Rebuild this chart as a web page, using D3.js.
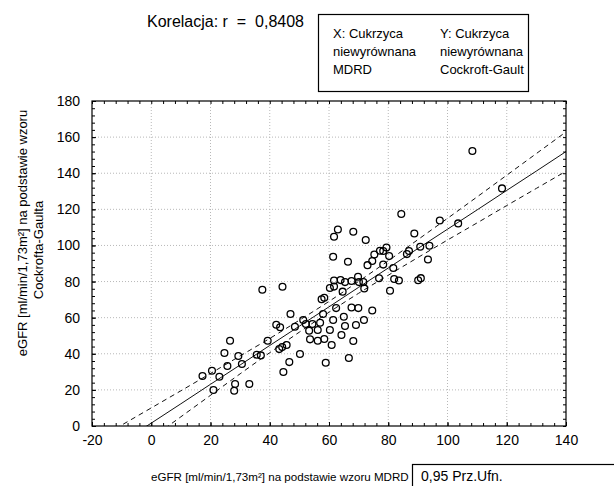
<!DOCTYPE html>
<html>
<head>
<meta charset="utf-8">
<script src="https://cdn.jsdelivr.net/npm/d3@7"></script>
<style>
  body { margin: 0; background: #fff; }
  svg text { font-family: "Liberation Sans", Arial, sans-serif; fill: #000; }
</style>
</head>
<body>
<svg id="chart" width="614" height="486"></svg>
<script>
// points (x = MDRD, y = Cockcroft-Gault)
var mdrd = [17.3, 20.5, 21.0, 23.0, 24.7, 25.7, 26.6, 28.3, 28.0, 29.4, 30.6, 33.1, 35.6, 37.0, 37.5,
  39.3, 42.2, 43.5, 44.3, 43.2, 44.2, 45.7, 44.6, 46.6, 47.0, 48.5, 50.2, 51.3, 52.2, 53.3,
  53.6, 54.4, 56.2, 56.2, 57.0, 57.5, 58.4, 58.0, 58.4, 58.9, 60.3, 60.9, 61.4, 61.7, 60.3,
  61.7, 61.4, 61.7, 63.0, 62.4, 64.2, 63.9, 65.4, 65.0, 64.6, 65.4, 66.7, 68.2, 69.1, 71.8,
  67.6, 69.9, 74.6, 66.4, 68.2, 72.4, 67.6, 69.8, 70.1, 71.6, 71.9, 73.0, 74.6, 75.3, 77.2,
  78.3, 79.4, 80.3, 78.3, 81.7, 76.9, 82.0, 83.6, 80.6, 84.4, 87.0, 86.3, 88.8, 90.8, 93.9,
  93.4, 90.1, 91.0, 97.4, 103.6, 108.4, 118.4];
var cg = [27.7, 30.6, 19.9, 27.3, 40.4, 33.2, 47.2, 23.3, 19.5, 38.8, 34.3, 23.3, 39.5, 39.1, 75.5,
  47.2, 56.1, 54.7, 77.1, 42.6, 43.7, 44.9, 29.9, 35.4, 62.0, 55.0, 39.9, 58.7, 56.5, 52.8,
  48.0, 56.5, 53.2, 47.2, 57.2, 70.2, 71.0, 62.0, 48.2, 35.0, 53.2, 44.9, 58.7, 80.6, 76.4,
  77.2, 93.7, 104.8, 108.8, 65.3, 50.4, 80.8, 79.7, 60.5, 74.4, 55.4, 37.7, 47.1, 55.9, 58.7,
  65.6, 65.3, 64.0, 91.0, 107.6, 103.0, 80.3, 82.7, 79.7, 79.7, 76.2, 89.1, 91.4, 95.0, 97.1,
  96.9, 98.8, 94.1, 89.4, 87.5, 81.8, 81.4, 80.6, 74.9, 117.4, 96.9, 95.2, 106.6, 99.3, 99.8,
  92.2, 80.7, 81.9, 113.8, 112.2, 152.3, 131.6];

// fitted line and 0.95 confidence band, read at these x values
var bandX  = [-20, -10, 0, 10, 20, 30, 40, 50, 60, 70, 80, 90, 100, 110, 120, 130, 140];
var fitY   = [-19.9, -9.1, 1.6, 12.3, 23.1, 33.8, 44.6, 55.3, 66.0, 76.8, 87.5, 98.3, 109.0, 119.7, 130.5, 141.2, 152.0];
var upperY = [-9.0, 0.5, 10.0, 19.5, 29.1, 38.8, 48.5, 58.6, 69.0, 80.1, 91.5, 103.2, 115.0, 126.9, 138.9, 150.9, 162.9];
var lowerY = [-30.8, -18.8, -6.8, 5.1, 17.0, 28.9, 40.6, 52.0, 63.0, 73.5, 83.5, 93.3, 103.0, 112.5, 122.1, 131.6, 141.1];

var xTicks = [-20, 0, 20, 40, 60, 80, 100, 120, 140];
var yTicks = [0, 20, 40, 60, 80, 100, 120, 140, 160, 180];

var title = "Korelacja: r  =  0,8408";
var legendX = ["X: Cukrzyca", "niewyrównana", "MDRD"];
var legendY = ["Y: Cukrzyca", "niewyrównana", "Cockroft-Gault"];
var xTitle = "eGFR [ml/min/1,73m²] na podstawie wzoru MDRD";
var yTitle = ["eGFR [ml/min/1,73m²] na podstawie wzoru", "Cockrofta-Gaulta"];
var bandLabel = "0,95 Prz.Ufn.";

// plot box (don't call it "top", window.top is taken)
var pL = 92, pR = 566, pT = 101, pB = 426;

var svg = d3.select("#chart");

var x = d3.scaleLinear().domain([-20, 140]).range([pL, pR]);
var y = d3.scaleLinear().domain([0, 180]).range([pB, pT]);

// dotted grid
svg.append("g").selectAll("line")
  .data(xTicks.slice(1, -1))
  .enter().append("line")
  .attr("x1", d => x(d)).attr("x2", d => x(d))
  .attr("y1", pT).attr("y2", pB)
  .attr("stroke", "#b8b8b8").attr("stroke-dasharray", "1,2");

svg.append("g").selectAll("line")
  .data(yTicks.slice(1, -1))
  .enter().append("line")
  .attr("x1", pL).attr("x2", pR)
  .attr("y1", d => y(d)).attr("y2", d => y(d))
  .attr("stroke", "#b8b8b8").attr("stroke-dasharray", "1,2");

// minor ticks every 4 units, pointing inward on all four sides
var minorX = d3.range(-20, 141, 4);
var minorY = d3.range(0, 181, 4);

function noDomain(g) { g.select(".domain").remove(); g.selectAll("line").attr("stroke", "#000"); }

svg.append("g").attr("transform", "translate(0," + pB + ")")
  .call(d3.axisBottom(x).tickValues(minorX).tickSize(-3).tickFormat("")).call(noDomain);
svg.append("g").attr("transform", "translate(0," + pT + ")")
  .call(d3.axisTop(x).tickValues(minorX).tickSize(-3).tickFormat("")).call(noDomain);
svg.append("g").attr("transform", "translate(" + pL + ",0)")
  .call(d3.axisLeft(y).tickValues(minorY).tickSize(-3).tickFormat("")).call(noDomain);
svg.append("g").attr("transform", "translate(" + pR + ",0)")
  .call(d3.axisRight(y).tickValues(minorY).tickSize(-3).tickFormat("")).call(noDomain);

// labelled axes (plain hyphen for negatives, like the original)
var xAxis = svg.append("g").attr("transform", "translate(0," + pB + ")")
  .call(d3.axisBottom(x).tickValues(xTicks).tickSize(-4).tickPadding(9).tickFormat(d => String(d)));
xAxis.call(noDomain);
xAxis.selectAll("text").attr("font-size", 14).attr("fill", "#000");

var yAxis = svg.append("g").attr("transform", "translate(" + pL + ",0)")
  .call(d3.axisLeft(y).tickValues(yTicks).tickSize(-4).tickPadding(12).tickFormat(d => String(d)));
yAxis.call(noDomain);
yAxis.selectAll("text").attr("font-size", 14).attr("fill", "#000");

// clip for lines
svg.append("clipPath").attr("id", "plotClip")
  .append("rect").attr("x", pL).attr("y", pT)
  .attr("width", pR - pL).attr("height", pB - pT);

var line = (vals) => d3.line()
  .x((d, i) => x(bandX[i]))
  .y((d, i) => y(vals[i]))
  .curve(d3.curveMonotoneX)(vals);

var lines = svg.append("g").attr("clip-path", "url(#plotClip)");
lines.append("path").attr("d", line(fitY))
  .attr("fill", "none").attr("stroke", "#111").attr("stroke-width", 1);
[upperY, lowerY].forEach(vals => {
  lines.append("path").attr("d", line(vals))
    .attr("fill", "none").attr("stroke", "#111").attr("stroke-width", 1)
    .attr("stroke-dasharray", "5,4");
});

// points
svg.append("g").selectAll("circle")
  .data(mdrd)
  .enter().append("circle")
  .attr("cx", d => x(d))
  .attr("cy", (d, i) => y(cg[i]))
  .attr("r", 3.4)
  .attr("fill", "none")
  .attr("stroke", "#000")
  .attr("stroke-width", 1.3);

// frame
svg.append("rect")
  .attr("x", pL).attr("y", pT)
  .attr("width", pR - pL).attr("height", pB - pT)
  .attr("fill", "none").attr("stroke", "#000").attr("stroke-width", 1.2);

// title
svg.append("text")
  .attr("x", 147).attr("y", 27)
  .attr("font-size", 16)
  .attr("xml:space", "preserve")
  .style("white-space", "pre")
  .text(title);

// legend box
svg.append("rect")
  .attr("x", 318.5).attr("y", 14.5).attr("width", 210).attr("height", 77)
  .attr("fill", "none").attr("stroke", "#000").attr("stroke-width", 1.2);

[legendX, legendY].forEach((col, c) => {
  svg.append("g").selectAll("text")
    .data(col)
    .enter().append("text")
    .attr("x", c === 0 ? 333 : 440)
    .attr("y", (d, i) => 38 + i * 18)
    .attr("font-size", 13)
    .text(d => d);
});

// axis titles
svg.append("text")
  .attr("x", 151).attr("y", 481)
  .attr("font-size", 11.6)
  .text(xTitle);

svg.append("g").selectAll("text")
  .data(yTitle)
  .enter().append("text")
  .attr("transform", (d, i) => "translate(" + (27 + i * 16) + "," + (233 + i * 17) + ") rotate(-90)")
  .attr("text-anchor", "middle")
  .attr("font-size", 13)
  .text(d => d);

// confidence label box
svg.append("rect")
  .attr("x", 412.5).attr("y", 464.5).attr("width", 210).attr("height", 30)
  .attr("fill", "none").attr("stroke", "#000").attr("stroke-width", 1.2);
svg.append("text")
  .attr("x", 421).attr("y", 481)
  .attr("font-size", 14)
  .text(bandLabel);
</script>
</body>
</html>
